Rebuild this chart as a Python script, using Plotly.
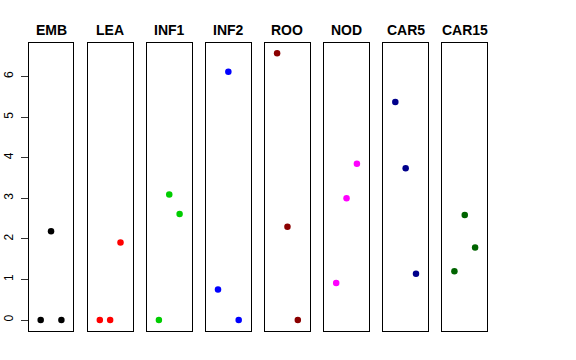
import plotly.graph_objects as go

panels = ["EMB", "LEA", "INF1", "INF2", "ROO", "NOD", "CAR5", "CAR15"]
colors = ["#000000", "#FF0000", "#00CD00", "#0000FF", "#8B0000", "#FF00FF", "#00008B", "#006400"]
x_pos = [1, 2, 3]
values = {
    "EMB":   [0.0, 2.19, 0.0],
    "LEA":   [0.0, 0.0, 1.91],
    "INF1":  [0.0, 3.09, 2.61],
    "INF2":  [0.75, 6.12, 0.0],
    "ROO":   [6.57, 2.30, 0.0],
    "NOD":   [0.91, 3.00, 3.85],
    "CAR5":  [5.37, 3.74, 1.14],
    "CAR15": [1.20, 2.59, 1.79],
}
y_ticks = [0, 1, 2, 3, 4, 5, 6]

W, H = 576, 360
left0, step, pw = 28.7, 59.1, 44.7
top, bottom = 42.7, 330.7

ymax = max(max(v) for v in values.values())
yr = [0 - 0.04 * ymax, ymax * 1.04]
xr = [-0.16, 4.16]

fig = go.Figure()
layout = dict(
    width=W, height=H, margin=dict(l=0, r=0, t=0, b=0, autoexpand=False),
    paper_bgcolor="white", plot_bgcolor="white", showlegend=False,
    annotations=[],
)
for i, name in enumerate(panels):
    k = "" if i == 0 else str(i + 1)
    x0 = (left0 + step * i) / W
    x1 = (left0 + step * i + pw) / W
    fig.add_trace(go.Scatter(
        x=x_pos, y=values[name], mode="markers",
        marker=dict(color=colors[i], size=6.5),
        xaxis="x" + k, yaxis="y" + k, hoverinfo="skip",
    ))
    layout["xaxis" + k] = dict(
        domain=[x0, x1], range=xr, anchor="y" + k, automargin=False,
        showticklabels=False, ticks="", showgrid=False, zeroline=False,
        showline=True, mirror=True, linecolor="#000", linewidth=1,
    )
    ya = dict(
        domain=[1 - bottom / H, 1 - top / H], range=yr, anchor="x" + k,
        automargin=False, showgrid=False, zeroline=False,
        showline=True, mirror=True, linecolor="#000", linewidth=1,
    )
    if i == 0:
        ya.update(tickvals=y_ticks, ticktext=[str(t) for t in y_ticks],
                  ticks="outside", ticklen=7, tickcolor="#333", tickwidth=1,
                  tickangle=-90, ticklabelstandoff=3,
                  tickfont=dict(family="Liberation Sans", size=12, color="#000"))
    else:
        ya.update(showticklabels=False, ticks="")
    layout["yaxis" + k] = ya
    layout["annotations"].append(dict(
        text="<b>" + name + "</b>", x=(x0 + x1) / 2, y=1 - 30 / H,
        xref="paper", yref="paper", showarrow=False,
        xanchor="center", yanchor="middle",
        font=dict(family="Liberation Sans", size=14, color="#000"),
    ))

fig.update_layout(**layout)
fig.write_html("out.html", config={"displayModeBar": False},
               post_script="document.body.style.margin='0';")
